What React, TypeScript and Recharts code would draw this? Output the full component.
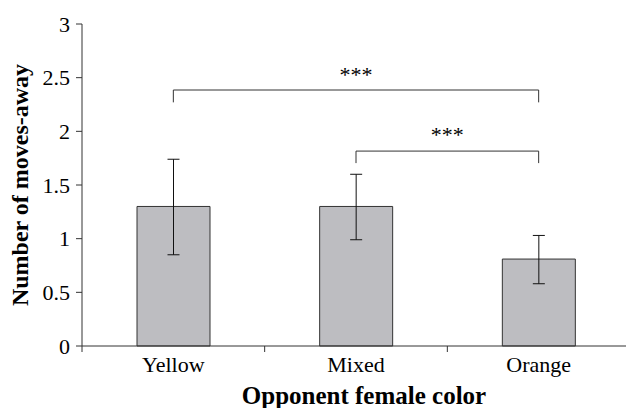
import React from 'react';
import {
  BarChart,
  Bar,
  XAxis,
  YAxis,
  ErrorBar,
  ReferenceLine,
  Label,
} from 'recharts';

const categories = ['Yellow', 'Mixed', 'Orange'];
const means = [1.3, 1.3, 0.81];
const errLow = [0.45, 0.31, 0.23];
const errHigh = [0.44, 0.3, 0.22];
const yTicks = [0, 0.5, 1, 1.5, 2, 2.5, 3];

// significance brackets: from / to category, level of the bar, length of the drops
const brackets = [
  { from: 'Yellow', to: 'Orange', level: 2.385, drop: 0.115, text: '***', offset: 8 },
  { from: 'Mixed', to: 'Orange', level: 1.816, drop: 0.112, text: '***', offset: 9 },
];

const FONT = '"Liberation Serif", "Times New Roman", serif';
const W = 630;
const H = 408;
const TOP = 24;
const X_AXIS_H = 62;
const AXIS_Y = H - X_AXIS_H;
const LINE = '#333';

const data = categories.map((name, i) => ({
  name,
  value: means[i],
  err: [errLow[i], errHigh[i]],
}));

const CategoryTick = (props: any) => {
  const { x, payload } = props;
  const half = payload.offset || 0;
  return (
    <g>
      <line x1={x - half} y1={AXIS_Y} x2={x - half} y2={AXIS_Y + 6} stroke={LINE} />
      <text x={x} y={372} textAnchor="middle" fontFamily={FONT} fontSize={22} fill="#000">
        {payload.value}
      </text>
    </g>
  );
};

export default function App() {
  return (
    <div style={{ position: 'absolute', left: 0, top: 0, width: 626, height: H, overflow: 'hidden', background: '#fff' }}>
      <BarChart width={W} height={H} data={data} margin={{ top: TOP, right: 0, left: 0, bottom: 0 }}>
        <XAxis
          dataKey="name"
          height={X_AXIS_H}
          axisLine={{ stroke: LINE }}
          tickLine={false}
          tick={<CategoryTick />}
          interval={0}
        >
          <Label
            content={(p: any) => {
              const vb = p.viewBox;
              return (
                <text
                  x={vb.x + vb.width / 2 + 8}
                  y={vb.y + vb.height - 4}
                  textAnchor="middle"
                  fontFamily={FONT}
                  fontSize={25}
                  fontWeight="bold"
                  fill="#000"
                >
                  Opponent female color
                </text>
              );
            }}
          />
        </XAxis>
        <YAxis
          width={82}
          domain={[0, 3]}
          ticks={yTicks}
          interval={0}
          axisLine={{ stroke: LINE }}
          tickLine={{ stroke: LINE }}
          tickSize={6}
          tickMargin={6}
          tick={{ fontFamily: FONT, fontSize: 22, fill: '#000' }}
        >
          <Label
            content={(p: any) => {
              const vb = p.viewBox;
              const cx = 20;
              const cy = vb.y + vb.height / 2;
              return (
                <text
                  x={cx}
                  y={cy}
                  transform={`rotate(-90, ${cx}, ${cy})`}
                  textAnchor="middle"
                  dominantBaseline="central"
                  fontFamily={FONT}
                  fontSize={24}
                  fontWeight="bold"
                  fill="#000"
                >
                  Number of moves-away
                </text>
              );
            }}
          />
        </YAxis>
        <Bar dataKey="value" fill="#bdbdc1" stroke={LINE} strokeWidth={1} barSize={73} isAnimationActive={false}>
          <ErrorBar dataKey="err" width={6} stroke="#111" strokeWidth={1} isAnimationActive={false} />
        </Bar>
        {brackets.map((b, i) => (
          <ReferenceLine
            key={`h-${i}`}
            segment={[
              { x: b.from, y: b.level },
              { x: b.to, y: b.level },
            ]}
            stroke={LINE}
            label={{ value: b.text, position: 'top', offset: b.offset, fontFamily: FONT, fontSize: 22, fill: '#000' }}
          />
        ))}
        {brackets.map((b, i) => (
          <ReferenceLine
            key={`l-${i}`}
            segment={[
              { x: b.from, y: b.level },
              { x: b.from, y: b.level - b.drop },
            ]}
            stroke={LINE}
          />
        ))}
        {brackets.map((b, i) => (
          <ReferenceLine
            key={`r-${i}`}
            segment={[
              { x: b.to, y: b.level },
              { x: b.to, y: b.level - b.drop },
            ]}
            stroke={LINE}
          />
        ))}
      </BarChart>
    </div>
  );
}
